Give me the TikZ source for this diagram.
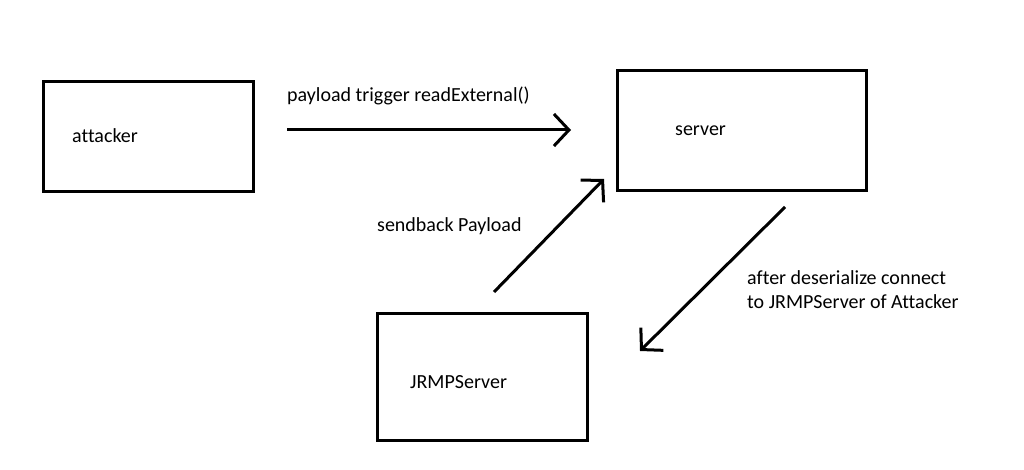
\documentclass[tikz,border=0pt]{standalone}
\usepackage{fontspec}
\setmainfont[Ligatures={NoCommon}]{Carlito}
\usetikzlibrary{arrows.meta}
\begin{document}
\begin{tikzpicture}[x=1pt,y=-1pt,
  box/.style={draw=black,line width=3pt,minimum width=#1,inner sep=0pt},
  lbl/.style={anchor=west,inner sep=0pt,font=\fontsize{20}{24}\selectfont},
  conn/.style={line width=3pt,-{Straight Barb[length=15pt,width=32pt,line width=3pt]}}]
\useasboundingbox[fill=white] (0,0) rectangle (1024,470);
\node[box=210pt,minimum height=110pt] (attacker) at (148,137) {};
\node[box=249pt,minimum height=120pt] (server) at (741.5,131) {};
\node[box=210pt,minimum height=127pt] (jrmp) at (482,376.5) {};
\node[lbl] (tA) at (72,136) {attacker};
\node[lbl] (tS) at (675,131) {server};
\node[lbl] (tJ) at (410,382) {JRMPServer};
\node[lbl] (t1) at (287,96) {payload trigger readExternal()};
\node[lbl] (t2) at (377,226) {sendback Payload};
\node[lbl,align=left] (t3) at (747,290) {after deserialize connect\\to JRMPServer of Attacker};
\coordinate (a1) at (287,130);
\coordinate (a2) at (571,130);
\coordinate (b1) at (494,292);
\coordinate (b2) at (604,179);
\coordinate (c1) at (785,207);
\coordinate (c2) at (640,351);
\draw[conn] (a1) -- (a2);
\draw[conn] (b1) -- (b2);
\draw[conn] (c1) -- (c2);
\end{tikzpicture}
\end{document}
